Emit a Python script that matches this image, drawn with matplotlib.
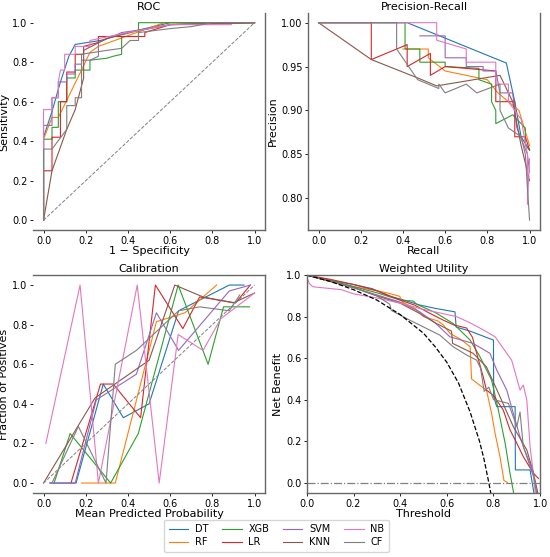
import matplotlib
matplotlib.use('Agg')
import matplotlib.pyplot as plt

models = ['DT', 'RF', 'XGB', 'LR', 'SVM', 'KNN', 'NB', 'CF']
colors = ['tab:blue', 'tab:orange', 'tab:green', 'tab:red',
          'tab:purple', 'tab:brown', 'tab:pink', 'tab:gray']

# ROC curves (1 - specificity, sensitivity)
roc_fpr = {
    'DT':  [0, 0, 0.04, 0.08, 0.12, 0.15, 0.27, 0.40, 0.60, 1.0],
    'RF':  [0, 0, 0.04, 0.07, 0.18, 0.22, 0.26, 0.57, 1.0],
    'XGB': [0, 0, 0.04, 0.04, 0.07, 0.07, 0.11, 0.11, 0.15, 0.15, 0.22, 0.22,
            0.30, 0.33, 0.37, 0.37, 0.45, 0.45, 1.0],
    'LR':  [0, 0, 0.04, 0.04, 0.08, 0.08, 0.11, 0.11, 0.15, 0.15, 0.19, 0.19,
            0.26, 0.26, 0.48, 0.48, 0.60, 1.0],
    'SVM': [0, 0, 0.04, 0.04, 0.07, 0.07, 0.11, 0.11, 0.15, 0.15, 0.18, 0.18,
            0.22, 0.26, 0.26, 0.37, 0.50, 0.60, 0.80, 1.0],
    'KNN': [0, 0.04, 0.11, 0.15, 0.19, 0.19, 0.30, 0.45, 0.60, 1.0],
    'NB':  [0, 0, 0.04, 0.04, 0.07, 0.07, 0.08, 0.10, 0.10, 0.15, 0.15, 0.22,
            0.22, 0.40, 0.60, 0.89],
    'CF':  [0, 0, 0.04, 0.11, 0.11, 0.15, 0.15, 0.18, 0.18, 0.30, 0.37, 0.41,
            0.45, 0.45, 0.60, 0.70, 0.80, 1.0],
}
roc_tpr = {
    'DT':  [0, 0.42, 0.55, 0.70, 0.83, 0.89, 0.91, 0.95, 1.0, 1.0],
    'RF':  [0, 0.41, 0.52, 0.52, 0.76, 0.85, 0.88, 1.0, 1.0],
    'XGB': [0, 0.41, 0.41, 0.47, 0.47, 0.60, 0.60, 0.72, 0.72, 0.76, 0.76, 0.81,
            0.82, 0.83, 0.84, 0.93, 0.93, 1.0, 1.0],
    'LR':  [0, 0.25, 0.25, 0.42, 0.42, 0.60, 0.60, 0.75, 0.75, 0.84, 0.84, 0.88,
            0.90, 0.93, 0.93, 0.95, 0.99, 1.0],
    'SVM': [0, 0.48, 0.48, 0.62, 0.62, 0.70, 0.70, 0.74, 0.74, 0.79, 0.79, 0.81,
            0.81, 0.83, 0.90, 0.95, 0.97, 0.99, 1.0, 1.0],
    'KNN': [0, 0.25, 0.46, 0.56, 0.72, 0.86, 0.92, 0.96, 0.99, 1.0],
    'NB':  [0, 0.56, 0.56, 0.62, 0.62, 0.70, 0.76, 0.76, 0.84, 0.84, 0.88, 0.88,
            0.91, 0.95, 0.99, 0.99],
    'CF':  [0, 0.36, 0.36, 0.46, 0.58, 0.58, 0.62, 0.62, 0.84, 0.86, 0.87, 0.91,
            0.91, 0.95, 0.97, 0.98, 1.0, 1.0],
}

# Precision-recall curves
pr_recall = {
    'DT':  [0, 0.42, 0.89, 0.93, 0.96, 1.0],
    'RF':  [0.40, 0.52, 0.52, 0.60, 0.80, 0.85, 0.95, 1.0],
    'XGB': [0, 0.41, 0.41, 0.48, 0.48, 0.60, 0.60, 0.76, 0.76, 0.82, 0.82, 0.84,
            0.84, 0.92, 0.98, 0.98, 1.0],
    'LR':  [0, 0.25, 0.25, 0.42, 0.42, 0.53, 0.53, 0.60, 0.84, 0.84, 0.93, 0.93,
            0.98, 1.0],
    'SVM': [0.48, 0.60, 0.60, 0.70, 0.70, 0.78, 0.78, 0.84, 0.86, 0.92, 0.94,
            0.99, 1.0],
    'KNN': [0, 0.25, 0.47, 0.56, 0.86, 0.92, 0.96, 1.0],
    'NB':  [0, 0.56, 0.56, 0.70, 0.70, 0.84, 0.84, 0.90, 0.90, 0.96, 0.99, 0.99,
            1.0],
    'CF':  [0, 0.37, 0.37, 0.47, 0.57, 0.57, 0.60, 0.70, 0.75, 0.86, 0.86, 0.90,
            0.96, 0.98, 1.0],
}
pr_precision = {
    'DT':  [1.0, 1.0, 0.954, 0.91, 0.87, 0.855],
    'RF':  [0.97, 0.97, 0.96, 0.945, 0.935, 0.92, 0.90, 0.86],
    'XGB': [1.0, 1.0, 0.97, 0.97, 0.955, 0.955, 0.95, 0.948, 0.935, 0.93, 0.91,
            0.90, 0.885, 0.895, 0.88, 0.86, 0.855],
    'LR':  [1.0, 1.0, 0.958, 0.975, 0.95, 0.965, 0.94, 0.95, 0.945, 0.91, 0.91,
            0.87, 0.87, 0.855],
    'SVM': [0.985, 0.985, 0.96, 0.96, 0.95, 0.95, 0.945, 0.945, 0.92, 0.92,
            0.88, 0.85, 0.83],
    'KNN': [1.0, 0.958, 0.937, 0.928, 0.94, 0.91, 0.86, 0.82],
    'NB':  [1.0, 1.0, 0.98, 0.97, 0.955, 0.955, 0.93, 0.93, 0.91, 0.89, 0.85,
            0.793, 0.845],
    'CF':  [1.0, 1.0, 0.97, 0.935, 0.925, 0.93, 0.92, 0.93, 0.92, 0.93, 0.90,
            0.88, 0.87, 0.85, 0.775],
}

# Calibration curves (mean predicted probability, fraction of positives)
cal_pred = {
    'DT':  [0.03, 0.154, 0.283, 0.378, 0.50, 0.64, 0.88, 0.95],
    'RF':  [0.18, 0.34, 0.535, 0.67, 0.82],
    'XGB': [0.05, 0.126, 0.318, 0.449, 0.638, 0.78, 0.853, 0.976],
    'LR':  [0.13, 0.27, 0.33, 0.46, 0.53, 0.66, 0.74, 0.91, 0.98],
    'SVM': [0.03, 0.15, 0.25, 0.44, 0.535, 0.64, 0.88, 0.98],
    'KNN': [0.0, 0.244, 0.50, 0.622, 0.756, 0.90, 1.0],
    'NB':  [0.011, 0.173, 0.26, 0.444, 0.548, 0.638, 0.756, 0.84, 1.0],
    'CF':  [0.04, 0.165, 0.296, 0.34, 0.44, 0.64, 0.74, 0.88, 0.93],
}
cal_frac = {
    'DT':  [0.0, 0.0, 0.50, 0.33, 0.40, 0.87, 1.0, 1.0],
    'RF':  [0.0, 0.0, 0.815, 0.86, 1.0],
    'XGB': [0.0, 0.25, 0.0, 0.25, 1.0, 0.60, 0.89, 0.89],
    'LR':  [0.0, 0.50, 0.50, 0.33, 1.0, 0.78, 0.94, 0.91, 1.0],
    'SVM': [0.0, 0.0, 0.42, 0.55, 0.86, 0.67, 0.97, 1.0],
    'KNN': [0.0, 0.43, 0.62, 1.0, 0.94, 0.91, 0.96],
    'NB':  [0.20, 1.0, 0.0, 1.0, 0.0, 0.75, 0.67, 0.83, 0.96],
    'CF':  [0.0, 0.286, 0.0, 0.60, 0.67, 0.87, 0.89, 0.87, 0.95],
}

# Weighted utility (threshold, net benefit)
wu_thr = {
    'DT':  [0, 0.10, 0.20, 0.28, 0.35, 0.40, 0.484, 0.55, 0.635, 0.64, 0.70,
            0.80, 0.801, 0.814, 0.893, 0.894, 0.957, 0.975],
    'RF':  [0, 0.10, 0.20, 0.30, 0.36, 0.398, 0.41, 0.463, 0.50, 0.56, 0.585,
            0.613, 0.66, 0.70, 0.706, 0.74, 0.77, 0.792, 0.807, 0.828, 0.845,
            0.86],
    'XGB': [0, 0.10, 0.20, 0.30, 0.40, 0.456, 0.47, 0.55, 0.627, 0.70, 0.742,
            0.792, 0.821, 0.85, 0.871, 0.888],
    'LR':  [0, 0.10, 0.20, 0.30, 0.40, 0.463, 0.52, 0.585, 0.63, 0.685, 0.71,
            0.728, 0.756, 0.77, 0.80, 0.842, 0.871, 0.90, 0.928, 0.971, 0.993],
    'SVM': [0, 0.10, 0.20, 0.30, 0.40, 0.484, 0.55, 0.613, 0.713, 0.785, 0.814,
            0.857, 0.885, 0.914, 0.943, 0.971, 0.985],
    'KNN': [0, 0.10, 0.20, 0.30, 0.40, 0.484, 0.55, 0.62, 0.625, 0.713, 0.77,
            0.828, 0.885, 0.943, 0.971, 0.99],
    'NB':  [0, 0.01, 0.026, 0.148, 0.20, 0.30, 0.40, 0.50, 0.642, 0.70, 0.75,
            0.807, 0.878, 0.914, 0.928, 0.943, 0.957, 0.971, 0.98],
    'CF':  [0, 0.10, 0.20, 0.30, 0.355, 0.362, 0.441, 0.47, 0.57, 0.627, 0.685,
            0.728, 0.745, 0.76, 0.78, 0.80, 0.864, 0.90, 0.914, 0.928, 0.971,
            0.985],
}
wu_nb = {
    'DT':  [1.0, 0.975, 0.955, 0.935, 0.90, 0.885, 0.856, 0.84, 0.823, 0.75,
            0.73, 0.687, 0.414, 0.366, 0.366, 0.061, 0.061, -0.06],
    'RF':  [1.0, 0.97, 0.945, 0.925, 0.91, 0.898, 0.87, 0.84, 0.80, 0.78, 0.76,
            0.72, 0.69, 0.655, 0.50, 0.47, 0.446, 0.334, 0.237, 0.125, 0.01,
            0.0],
    'XGB': [1.0, 0.975, 0.945, 0.915, 0.88, 0.875, 0.86, 0.82, 0.767, 0.687,
            0.607, 0.494, 0.35, 0.19, 0.045, -0.06],
    'LR':  [1.0, 0.98, 0.955, 0.925, 0.88, 0.855, 0.82, 0.783, 0.76, 0.745,
            0.70, 0.623, 0.51, 0.446, 0.42, 0.35, 0.254, 0.19, 0.125, 0.045,
            0.02],
    'SVM': [1.0, 0.97, 0.94, 0.905, 0.87, 0.823, 0.77, 0.703, 0.671, 0.623,
            0.543, 0.446, 0.334, 0.22, 0.125, 0.03, -0.05],
    'KNN': [1.0, 0.97, 0.94, 0.90, 0.865, 0.815, 0.77, 0.73, 0.671, 0.623,
            0.558, 0.414, 0.27, 0.157, 0.05, -0.05],
    'NB':  [0.99, 0.96, 0.944, 0.93, 0.91, 0.89, 0.865, 0.835, 0.80, 0.77, 0.74,
            0.703, 0.59, 0.446, 0.47, 0.398, 0.173, 0.045, -0.06],
    'CF':  [1.0, 0.97, 0.94, 0.90, 0.86, 0.83, 0.783, 0.767, 0.711, 0.655,
            0.615, 0.59, 0.55, 0.44, 0.46, 0.40, 0.382, 0.27, 0.34, 0.173, 0.05,
            -0.05],
}
treat_all_thr = [0, 0.10, 0.20, 0.30, 0.40, 0.50, 0.55, 0.60, 0.65, 0.70, 0.74,
                 0.76, 0.78, 0.79]
treat_all_nb = [1.0, 0.97, 0.93, 0.88, 0.81, 0.72, 0.655, 0.58, 0.48, 0.34,
                0.20, 0.11, 0.0, -0.06]

plt.rcParams['font.family'] = 'DejaVu Sans'
fig = plt.figure(figsize=(5.5, 5.57), dpi=100)

ax_roc = fig.add_axes([0.06, 0.587, 0.422, 0.39])
ax_pr = fig.add_axes([0.56, 0.587, 0.422, 0.39])
ax_cal = fig.add_axes([0.06, 0.115, 0.422, 0.391])
ax_wu = fig.add_axes([0.558, 0.115, 0.424, 0.391])

lw = 0.8
for m, c in zip(models, colors):
    ax_roc.plot(roc_fpr[m], roc_tpr[m], color=c, lw=lw, label=m)
    ax_pr.plot(pr_recall[m], pr_precision[m], color=c, lw=lw)
    ax_cal.plot(cal_pred[m], cal_frac[m], color=c, lw=lw)
    ax_wu.plot(wu_thr[m], wu_nb[m], color=c, lw=lw)

ax_roc.plot([0, 1], [0, 1], ls='--', color='gray', lw=0.7)
ax_cal.plot([0, 1], [0, 1], ls='--', color='gray', lw=0.7)
ax_wu.plot(treat_all_thr, treat_all_nb, ls='--', color='black', lw=0.9)
ax_wu.plot([0, 1], [0, 0], ls='-.', color='gray', lw=0.9)

tpad = 2
ax_roc.set_title('ROC', fontsize=8, pad=tpad)
ax_roc.set_xlabel('1 − Specificity', fontsize=8, labelpad=0)
ax_roc.set_ylabel('Sensitivity', fontsize=8, labelpad=2)

ax_pr.set_title('Precision-Recall', fontsize=8, pad=tpad)
ax_pr.set_xlabel('Recall', fontsize=8, labelpad=0)
ax_pr.set_ylabel('Precision', fontsize=8, labelpad=2)
ax_pr.set_yticks([0.80, 0.85, 0.90, 0.95, 1.00])
ax_pr.set_yticklabels(['0.80', '0.85', '0.90', '0.95', '1.00'])

ax_cal.set_title('Calibration', fontsize=8, pad=tpad)
ax_cal.set_xlabel('Mean Predicted Probability', fontsize=8, labelpad=0)
ax_cal.set_ylabel('Fraction of Positives', fontsize=8, labelpad=2)

ax_wu.set_title('Weighted Utility', fontsize=8, pad=tpad)
ax_wu.set_xlabel('Threshold', fontsize=8, labelpad=0)
ax_wu.set_ylabel('Net Benefit', fontsize=8, labelpad=2)
ax_wu.set_xlim(0, 1.0)
ax_wu.set_ylim(-0.05, 1.0)

ticks = [0.0, 0.2, 0.4, 0.6, 0.8, 1.0]
for ax in [ax_roc, ax_pr, ax_cal, ax_wu]:
    ax.set_xticks(ticks)
    ax.tick_params(labelsize=7, length=2, width=0.6, pad=2)
for ax in [ax_roc, ax_cal, ax_wu]:
    ax.set_yticks(ticks)

# spines as they appear in the picture
visible = {
    ax_roc: ['right', 'bottom'],
    ax_pr: ['left', 'right', 'bottom'],
    ax_cal: ['top', 'right', 'bottom'],
    ax_wu: ['left', 'right', 'top', 'bottom'],
}
for ax, sides in visible.items():
    for s in ['left', 'right', 'top', 'bottom']:
        ax.spines[s].set_visible(s in sides)
        ax.spines[s].set_color('#666666')
        ax.spines[s].set_linewidth(1.0)

fig.legend(*ax_roc.get_legend_handles_labels(), loc='center',
           bbox_to_anchor=(0.503, 0.038), ncol=4, fontsize=7,
           frameon=True, handlelength=2.0, columnspacing=1.4,
           borderpad=0.5, labelspacing=0.3, handletextpad=0.7)

fig.savefig('out.png', dpi=100)
